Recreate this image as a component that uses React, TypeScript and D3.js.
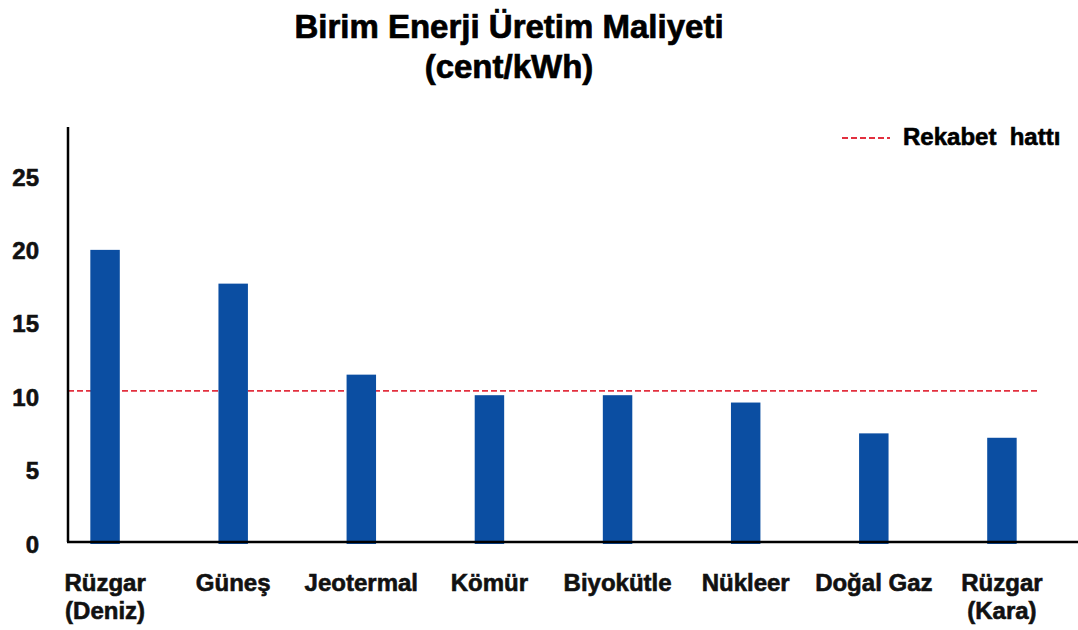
import React from "react";
import * as d3 from "d3";

// kategoriler ve değerler (cent/kWh)
const categories = [
  ["Rüzgar", "(Deniz)"],
  ["Güneş"],
  ["Jeotermal"],
  ["Kömür"],
  ["Biyokütle"],
  ["Nükleer"],
  ["Doğal Gaz"],
  ["Rüzgar", "(Kara)"],
];
const costs = [19.9, 17.6, 11.4, 10.0, 10.0, 9.5, 7.4, 7.1];
const yTickValues = [0, 5, 10, 15, 20, 25];
const competitionLine = 10.3; // rekabet hattı
const legendLabel = "Rekabet  hattı";
const titleLines = ["Birim Enerji Üretim Maliyeti", "(cent/kWh)"];

export default function App() {
  const width = 1078,
    height = 630;
  const axisX = 68,
    axisTop = 127,
    axisRight = 1078;
  const font = "'Liberation Sans', Arial, Helvetica, sans-serif";
  const red = "#e2303f";

  const keys = categories.map((c) => c.join(" "));

  const xScale = d3
    .scaleBand()
    .domain(keys)
    .range([41, 1066])
    .paddingInner(0.77)
    .paddingOuter(0.385);

  const yScale = d3.scaleLinear().domain([0, 25]).range([542, 175]);

  return (
    <svg
      width={width}
      height={height}
      style={{ position: "absolute", left: 0, top: 0, background: "#fff" }}
      fontFamily={font}
    >
      {/* başlık */}
      <g>
        {titleLines.map((t, i) => (
          <text
            key={t}
            x={509}
            y={38 + i * 40}
            textAnchor="middle"
            fontSize="33"
            fontWeight="bold"
            fill="#000"
            stroke="#000"
            strokeWidth="0.7"
          >
            {t}
          </text>
        ))}
      </g>

      {/* rekabet hattı */}
      <line
        x1={axisX}
        x2={1038}
        y1={yScale(competitionLine)}
        y2={yScale(competitionLine)}
        stroke={red}
        strokeWidth="1.8"
        strokeDasharray="6 3"
      />

      {/* çubuklar */}
      <g>
        {costs.map((v, i) => (
          <rect
            key={keys[i]}
            x={xScale(keys[i])}
            y={yScale(v)}
            width={xScale.bandwidth()}
            height={yScale(0) - yScale(v) + 2}
            fill="#0b4ea2"
          />
        ))}
      </g>

      {/* eksenler */}
      <line
        x1={axisX}
        x2={axisX}
        y1={axisTop}
        y2={yScale(0)}
        stroke="#000"
        strokeWidth="2.5"
      />
      <line
        x1={axisX - 1}
        x2={axisRight}
        y1={yScale(0)}
        y2={yScale(0)}
        stroke="#000"
        strokeWidth="2.5"
      />

      {/* y ekseni etiketleri */}
      <g>
        {yTickValues.map((t) => (
          <text
            key={t}
            x={39}
            y={yScale(t) + 2}
            textAnchor="end"
            dominantBaseline="central"
            fontSize="24"
            fontWeight="bold"
            fill="#111"
            stroke="#111"
            strokeWidth="0.6"
          >
            {t}
          </text>
        ))}
      </g>

      {/* x ekseni etiketleri */}
      <g>
        {categories.map((lines, i) => (
          <text
            key={keys[i]}
            x={(xScale(keys[i]) || 0) + xScale.bandwidth() / 2}
            y={591}
            textAnchor="middle"
            fontSize="24"
            fontWeight="bold"
            fill="#111"
            stroke="#111"
            strokeWidth="0.6"
          >
            {lines.map((l, j) => (
              <tspan
                key={l}
                x={(xScale(keys[i]) || 0) + xScale.bandwidth() / 2}
                dy={j === 0 ? 0 : 28}
              >
                {l}
              </tspan>
            ))}
          </text>
        ))}
      </g>

      {/* lejant */}
      <g>
        <line
          x1={842}
          x2={890}
          y1={138}
          y2={138}
          stroke={red}
          strokeWidth="1.8"
          strokeDasharray="6 3"
        />
        <text
          x={903}
          y={145}
          fontSize="24"
          fontWeight="bold"
          fill="#000"
          stroke="#000"
          strokeWidth="0.6"
          style={{ whiteSpace: "pre" }}
        >
          {legendLabel}
        </text>
      </g>
    </svg>
  );
}
